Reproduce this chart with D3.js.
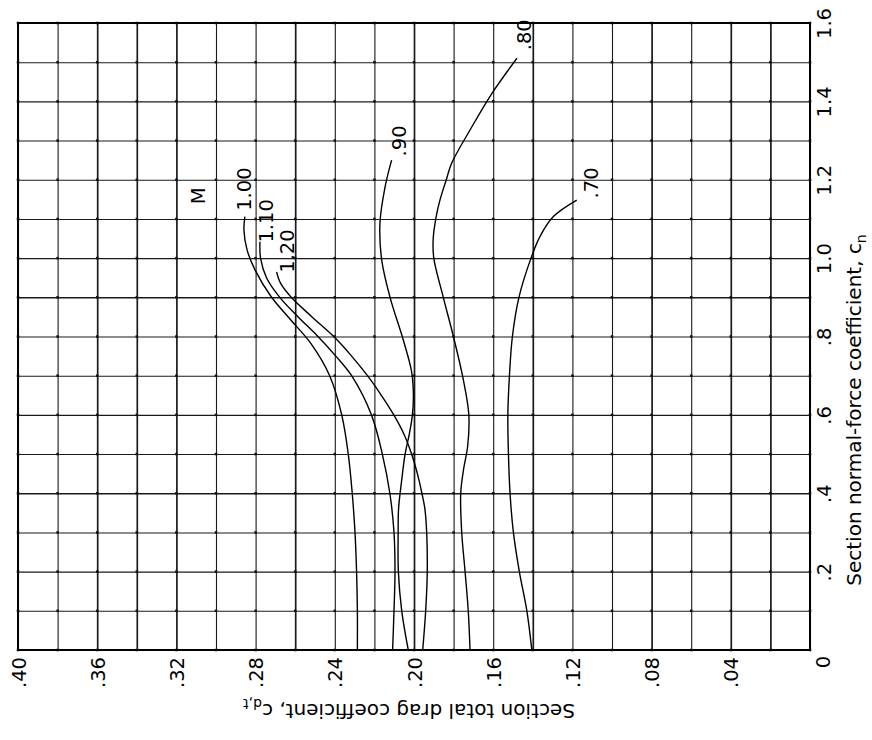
<!DOCTYPE html>
<html><head><meta charset="utf-8">
<script src="https://cdn.jsdelivr.net/npm/d3@7"></script>
<style>body{margin:0;background:#fff}</style>
</head><body>
<svg id="c" width="872" height="740"></svg>
<script>
// ---- data (drag coefficient c_d,t vs normal-force coefficient c_n, per Mach number) ----
const cnTickValues = [0.2, 0.4, 0.6, 0.8, 1.0, 1.2, 1.4, 1.6];
const cnTickLabels = [".2", ".4", ".6", ".8", "1.0", "1.2", "1.4", "1.6"];
const cdTickValues = [0.04, 0.08, 0.12, 0.16, 0.20, 0.24, 0.28, 0.32, 0.36, 0.40];
const cdTickLabels = [".04", ".08", ".12", ".16", ".20", ".24", ".28", ".32", ".36", ".40"];
const machLabels = [".70", ".80", ".90", "1.00", "1.10", "1.20"];

// [c_n, c_d,t]
const m070 = [[0,.1405],[.1,.143],[.2,.1468],[.3,.1498],[.4,.1515],[.5,.1523],[.6,.1526],[.7,.1518],[.8,.1503],[.9,.147],[1.0,.1409],[1.055,.1364],[1.106,.1296],[1.148,.1178]];
const m080 = [[0,.1717],[.1,.1726],[.2,.1742],[.3,.1759],[.4,.1764],[.46,.175],[.52,.1729],[.6,.1723],[.69,.1751],[.8,.1801],[.9,.1852],[1.0,.1900],[1.05,.1903],[1.106,.1888],[1.148,.1869],[1.2,.1837],[1.242,.181],[1.327,.1717],[1.42,.1607],[1.51,.148]];
const m090 = [[0,.2029],[.1,.2062],[.2,.2079],[.3,.208],[.36,.2078],[.434,.2062],[.5,.2045],[.55,.2024],[.6,.2008],[.65,.2003],[.71,.2012],[.791,.2054],[.9,.2121],[.995,.2163],[1.089,.2172],[1.182,.2146],[1.25,.2113]];
const m100 = [[0,.2286],[.1,.2286],[.2,.229],[.3,.2298],[.4,.2312],[.5,.2332],[.6,.2365],[.7,.2426],[.783,.2522],[.842,.2622],[.902,.2722],[.97,.2803],[1.021,.2843],[1.072,.2859],[1.106,.2854]];
const m110 = [[0,.2108],[.1,.2101],[.2,.2096],[.3,.2101],[.4,.2122],[.5,.2160],[.6,.2215],[.7,.2315],[.75,.2395],[.8,.2485],[.85,.2585],[.9,.2678],[.95,.2745],[1.0,.2775],[1.042,.2778]];
const m120 = [[0,.1956],[.1,.1941],[.2,.1933],[.3,.1936],[.36,.1945],[.4,.1960],[.45,.1983],[.5,.2012],[.55,.2050],[.6,.2102],[.65,.2165],[.7,.2235],[.75,.2315],[.8,.2405],[.85,.2515],[.9,.2620],[.936,.2674],[.965,.2694]];
const seriesList = [m070, m080, m090, m100, m110, m120];
// label anchor in data coordinates [c_n, c_d,t]
const labelAnchors = [[1.192,.1106],[1.57,.1444],[1.299,.2071],[1.176,.2854],[1.095,.2747],[1.018,.2641]];
const machTitleAnchor = [1.159, .3086];

// ---- layout (chart is drawn rotated: c_n runs upward, c_d,t runs leftward) ----
const svg = d3.select("#c");
const L = 18, R = 810, T = 23, B = 650;
const cn = d3.scaleLinear().domain([0, 1.6]).range([B, T]);
const cd = d3.scaleLinear().domain([0, 0.40]).range([R, L]);
const numFont = "DejaVu Sans, sans-serif";

// grid
const gH = svg.append("g").attr("transform", `translate(${L},0)`)
  .call(d3.axisRight(cn).tickValues(d3.range(0, 17).map(i => i / 10)).tickSize(R - L).tickFormat(""));
gH.select(".domain").remove();
gH.selectAll("line").attr("stroke", "#1a1a1a").attr("stroke-width", (d, i) => [4, 9].includes(i) ? 1.6 : 1.1);
const gV = svg.append("g").attr("transform", `translate(0,${T})`)
  .call(d3.axisBottom(cd).tickValues(d3.range(0, 21).map(i => i / 50)).tickSize(B - T).tickFormat(""));
gV.select(".domain").remove();
gV.selectAll("line").attr("stroke", "#1a1a1a").attr("stroke-width", (d, i) => [1,2,4,7,10,13,16,17,18].includes(i) ? 1.7 : 1.1);

// intersection marks
const pts = [];
d3.range(0, 17).forEach(i => d3.range(0, 21).forEach(j => pts.push([i / 10, j / 50])));
svg.append("g").selectAll("rect").data(pts).join("rect")
  .attr("x", d => cd(d[1]) - 1.25).attr("y", d => cn(d[0]) - 1.25)
  .attr("width", 2.5).attr("height", 2.5).attr("fill", "#111");

// frame
svg.append("rect").attr("x", L).attr("y", T).attr("width", R - L).attr("height", B - T)
  .attr("fill", "none").attr("stroke", "#000").attr("stroke-width", 2);

// c_n axis labels (right side)
const axR = svg.append("g").attr("transform", `translate(${R},0)`)
  .call(d3.axisRight(cn).tickValues(cnTickValues).tickSize(0).tickFormat((d, i) => cnTickLabels[i]));
axR.select(".domain").remove();
axR.selectAll("text").attr("x", null).attr("dy", null).attr("text-anchor", "middle")
  .attr("transform", "translate(21,0) rotate(-90)")
  .attr("font-family", numFont).attr("font-size", 19.5).attr("fill", "#000");

// c_d,t axis labels (bottom)
const axB = svg.append("g").attr("transform", `translate(0,${B})`)
  .call(d3.axisBottom(cd).tickValues(cdTickValues).tickSize(0).tickFormat((d, i) => cdTickLabels[i]));
axB.select(".domain").remove();
axB.selectAll("text").attr("y", null).attr("dy", null).attr("text-anchor", "end")
  .attr("transform", "translate(7,7) rotate(-90)")
  .attr("font-family", numFont).attr("font-size", 19.5).attr("fill", "#000");

// corner zero
svg.append("text").attr("text-anchor", "middle")
  .attr("transform", `translate(${cd(0) + 20},${cn(0) + 12}) rotate(-90)`)
  .attr("font-family", numFont).attr("font-size", 19.5).text("0");

// curves
const line = d3.line().x(d => cd(d[1])).y(d => cn(d[0])).curve(d3.curveCatmullRom.alpha(0.5));
svg.append("g").selectAll("path").data(seriesList).join("path")
  .attr("d", line).attr("fill", "none").attr("stroke", "#000").attr("stroke-width", 1.4);

// curve labels
svg.append("g").selectAll("text").data(machLabels).join("text")
  .attr("transform", (d, i) => `translate(${cd(labelAnchors[i][1])},${cn(labelAnchors[i][0])}) rotate(-90)`)
  .attr("text-anchor", "middle").attr("dominant-baseline", "central")
  .attr("font-family", numFont).attr("font-size", 19.5).text(d => d);
svg.append("text")
  .attr("transform", `translate(${cd(machTitleAnchor[1])},${cn(machTitleAnchor[0])}) rotate(-90)`)
  .attr("text-anchor", "middle").attr("dominant-baseline", "central")
  .attr("font-family", numFont).attr("font-size", 19.5).text("M");

// axis titles
const tR = svg.append("text").attr("text-anchor", "middle")
  .attr("transform", `translate(861,410) rotate(-90)`)
  .attr("font-family", numFont).attr("font-size", 20);
tR.append("tspan").text("Section normal-force coefficient, c");
tR.append("tspan").attr("font-size", 14).attr("dy", "0.35em").text("n");

const tB = svg.append("text").attr("text-anchor", "middle")
  .attr("transform", `translate(409,704) rotate(180)`)
  .attr("font-family", numFont).attr("font-size", 20);
tB.append("tspan").text("Section total drag coefficient, c");
tB.append("tspan").attr("font-size", 14).attr("dy", "0.35em").text("d,t");
</script>
</body></html>
